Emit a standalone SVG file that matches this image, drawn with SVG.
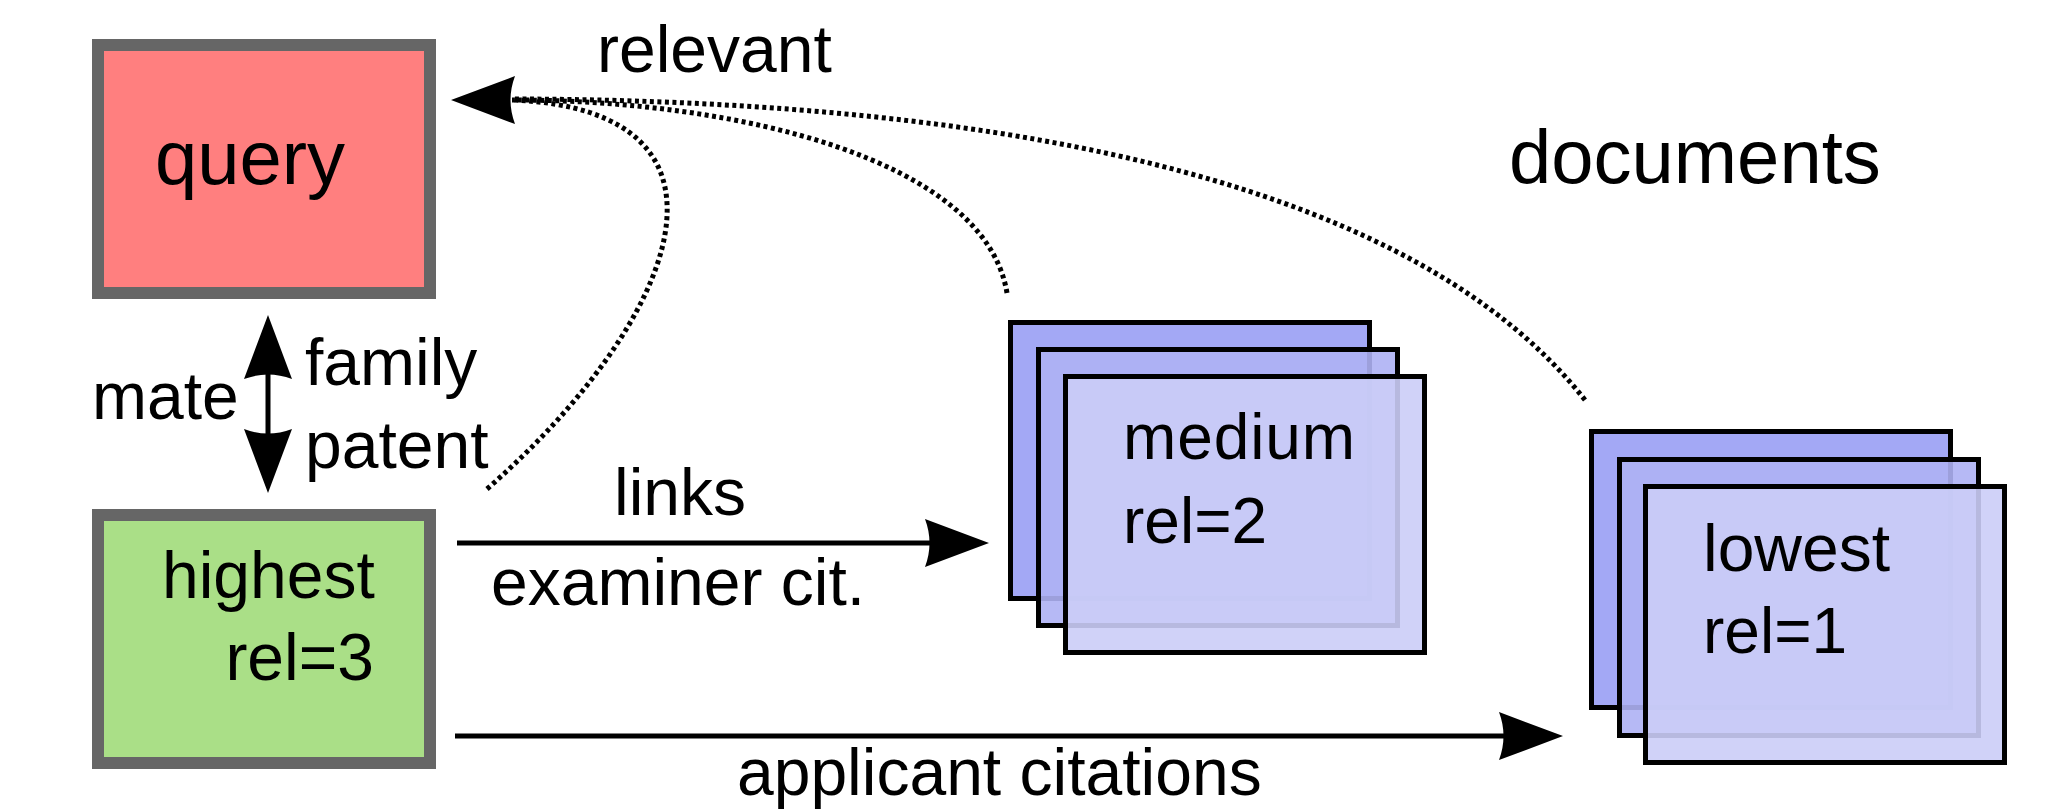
<svg xmlns="http://www.w3.org/2000/svg" xmlns:xlink="http://www.w3.org/1999/xlink" width="2058" height="809" viewBox="0 0 2058 809">
  <style>
    text { font-family: "Liberation Sans", Arial, sans-serif; fill: #000; }
    .lbl { font-size: 66px; }
    .big { font-size: 76px; }
    .doc { font-size: 64px; }
    .box { stroke: #666666; stroke-width: 12; }
    .sheet { stroke: #000; stroke-width: 5; }
    .s1 { fill: #A3A8F5; }
    .s2 { fill: #AEB1F4; fill-opacity: 0.9; }
    .s3 { fill: #CBCDF7; fill-opacity: 0.9; }
    .solid { fill: none; stroke: #000; stroke-width: 5; }
    .dots { fill: none; stroke: #000; stroke-width: 5; stroke-dasharray: 4 3.5; }
    .head { fill: #000; stroke: none; }
  </style>
  <defs>
    <!-- arrowhead pointing along +x, tip at origin, concave back -->
    <path id="head" class="head" d="M0,0 L-64,-24 Q-55,0 -64,24 Z"/>
  </defs>

  <rect width="2058" height="809" fill="#fff"/>

  <!-- query node -->
  <g id="query">
    <rect class="box" x="98" y="45" width="332" height="248" fill="#FF7F7F"/>
    <text class="big" x="155" y="184">query</text>
  </g>

  <!-- highest relevance node -->
  <g id="highest">
    <rect class="box" x="98" y="515" width="332" height="248" fill="#AADF87"/>
    <text class="lbl" x="162" y="598">highest</text>
    <text class="lbl" x="374" y="680" text-anchor="end">rel=3</text>
  </g>

  <!-- medium relevance document stack -->
  <g id="medium">
    <rect class="sheet s1" x="1010.5" y="322.5" width="359" height="276"/>
    <rect class="sheet s2" x="1038.5" y="349.5" width="359" height="276"/>
    <rect class="sheet s3" x="1065.5" y="376.5" width="359" height="276"/>
    <text class="doc" x="1123" y="459" textLength="232">medium</text>
    <text class="doc" x="1123" y="543">rel=2</text>
  </g>

  <!-- lowest relevance document stack -->
  <g id="lowest">
    <rect class="sheet s1" x="1591.5" y="431.5" width="359" height="276"/>
    <rect class="sheet s2" x="1619.5" y="459.5" width="359" height="276"/>
    <rect class="sheet s3" x="1645.5" y="486.5" width="359" height="276"/>
    <text class="lbl" x="1703" y="571">lowest</text>
    <text class="doc" x="1703" y="653">rel=1</text>
  </g>

  <text id="documents" class="big" x="1509" y="183">documents</text>

  <!-- connectors -->
  <g id="connectors">
    <!-- relevance judgements back to the query -->
    <path class="dots" d="M487,489 C680,320 760,110 512,100"/>
    <path class="dots" d="M1007,293 C985,160 740,100 512,100"/>
    <path class="dots" d="M1585,400 C1420,190 1030,100 512,99"/>
    <use xlink:href="#head" transform="translate(451,100) rotate(180)"/>

    <!-- family member link -->
    <line class="solid" x1="268" y1="370" x2="268" y2="438" stroke-width="4"/>
    <use xlink:href="#head" transform="translate(268,315) rotate(-90)"/>
    <use xlink:href="#head" transform="translate(268,493) rotate(90)"/>

    <!-- examiner citations -->
    <line class="solid" x1="457" y1="543" x2="932" y2="543"/>
    <use xlink:href="#head" transform="translate(989,543)"/>

    <!-- applicant citations -->
    <line class="solid" x1="455" y1="736" x2="1505" y2="736"/>
    <use xlink:href="#head" transform="translate(1563,736)"/>

    <!-- connector labels -->
    <text class="lbl" x="597" y="72">relevant</text>
    <text class="lbl" x="92" y="419" font-size="64">mate</text>
    <text class="lbl" x="305" y="385">family</text>
    <text class="lbl" x="305" y="468">patent</text>
    <text class="lbl" x="614" y="515">links</text>
    <text class="lbl" x="491" y="605">examiner cit.</text>
    <text class="lbl" x="737" y="795">applicant citations</text>
  </g>
</svg>
